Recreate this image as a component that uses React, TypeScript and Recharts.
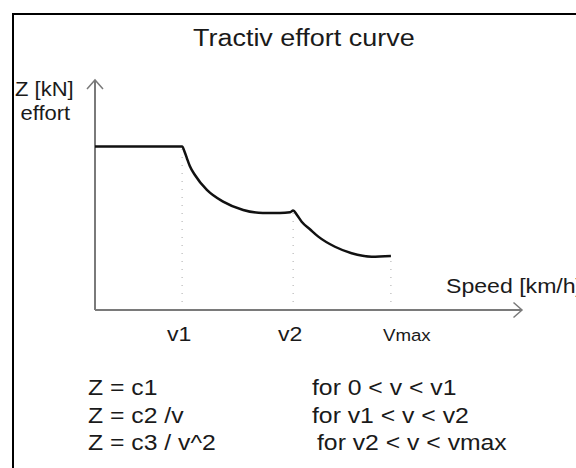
import { LineChart, Line, XAxis, YAxis, ReferenceLine, ReferenceDot } from "recharts";

// speed (x, arbitrary units 0..100) and effort (y, 0..100)
const speed = [0, 20.4, 21.0, 21.5, 22.2, 23.4, 26.2, 30.0, 34.7, 39.3, 43.3, 45.7, 46.4, 47.3, 48.4, 50.4, 52.3, 56.2, 60.1, 64.8, 69.3];
const effort = [71.1, 71.1, 68.7, 66.1, 62.6, 58.7, 52.2, 47.1, 43.5, 42.2, 42.2, 42.5, 43.3, 41.3, 38.4, 35.0, 31.9, 27.5, 24.7, 23.2, 23.5];

// break points v1, v2, vmax (indices into the series)
const markIdx = [1, 12, 20];
const tickLabels = ["v1", "v2", "Vmax"];

const formulas = ["Z = c1", "Z = c2 /v", "Z = c3 / v^2"];
const ranges = ["for 0 < v < v1", "for v1 < v < v2", "for v2 < v < vmax"];

const data = speed.map((s, i) => ({ speed: s, effort: effort[i] }));
const marks = markIdx.map((i) => ({ x: speed[i], y: effort[i] }));

const FONT = "'Liberation Sans', Arial, sans-serif";
const AXIS = "#7a7a7a";
const SX = 1.1;

function Txt({ x, y, size, children }: { x: number; y: number; size: number; children: string }) {
  return (
    <text transform={`translate(${x},${y}) scale(${SX},1)`} fontSize={size} fontFamily={FONT} fill="#1a1a1a">
      {children}
    </text>
  );
}

function SpeedTick(props: any) {
  const { x, y, index } = props;
  const label = tickLabels[index] ?? "";
  const isMax = label === "Vmax";
  return (
    <text
      transform={`translate(${isMax ? x - 8 : x - 3},${y + 31}) scale(${SX},1)`}
      textAnchor={isMax ? "start" : "middle"}
      fontSize={isMax ? 17 : 21}
      fontFamily={FONT}
      fill="#1a1a1a"
    >
      {label}
    </text>
  );
}

const arrowRight = (p: any) => (
  <path d={`M${p.cx - 8.5},${p.cy - 7.5} L${p.cx},${p.cy} L${p.cx - 8.5},${p.cy + 7.5}`} fill="none" stroke={AXIS} strokeWidth={1.5} />
);
const arrowUp = (p: any) => (
  <path d={`M${p.cx - 8},${p.cy + 9} L${p.cx},${p.cy} L${p.cx + 8},${p.cy + 9}`} fill="none" stroke={AXIS} strokeWidth={1.5} />
);

export default function App() {
  return (
    <div style={{ position: "fixed", left: 0, top: 0, width: 576, height: 468, overflow: "hidden", background: "#fff" }}>
      <div
        style={{
          position: "absolute",
          left: 12,
          top: 13,
          width: 700,
          height: 600,
          borderLeft: "2px solid #000",
          borderTop: "2px solid #000",
        }}
      />
      <div style={{ position: "absolute", left: 0, top: 0 }}>
        <LineChart width={576} height={468} data={data} margin={{ top: 80, left: 95, right: 54, bottom: 118 }}>
          <XAxis
            type="number"
            dataKey="speed"
            domain={[0, 100]}
            ticks={marks.map((m) => m.x)}
            axisLine={false}
            tickLine={false}
            tickSize={0}
            tickMargin={0}
            height={40}
            tick={<SpeedTick />}
            interval={0}
          />
          <YAxis type="number" domain={[0, 100]} hide />
          {marks.map((m) => (
            <ReferenceLine
              key={m.x}
              segment={[{ x: m.x, y: 0 }, { x: m.x, y: m.y }]}
              stroke="#aaa"
              strokeWidth={1}
              strokeDasharray="1 7"
            />
          ))}
          <ReferenceLine y={0} stroke={AXIS} strokeWidth={2} />
          <ReferenceLine x={0} stroke={AXIS} strokeWidth={2} />
          <ReferenceDot x={100} y={0} r={0} shape={arrowRight} ifOverflow="visible" />
          <ReferenceDot x={0} y={100} r={0} shape={arrowUp} ifOverflow="visible" />
          <Line type="monotone" dataKey="effort" stroke="#111" strokeWidth={2.5} dot={false} isAnimationActive={false} />
        </LineChart>
      </div>
      <svg width={576} height={468} style={{ position: "absolute", left: 0, top: 0, pointerEvents: "none" }}>
        <Txt x={193} y={46} size={24.5}>Tractiv effort curve</Txt>
        <Txt x={15} y={96} size={20}>Z [kN]</Txt>
        <Txt x={20.5} y={120} size={20}>effort</Txt>
        <Txt x={446} y={293} size={21}>Speed [km/h]</Txt>
        {formulas.map((f, i) => (
          <Txt key={f} x={88} y={395 + i * 27.5} size={22.5}>{f}</Txt>
        ))}
        {ranges.map((r, i) => (
          <Txt key={r} x={i === 2 ? 317 : 312} y={395 + i * 27.5} size={22.5}>{r}</Txt>
        ))}
      </svg>
    </div>
  );
}
